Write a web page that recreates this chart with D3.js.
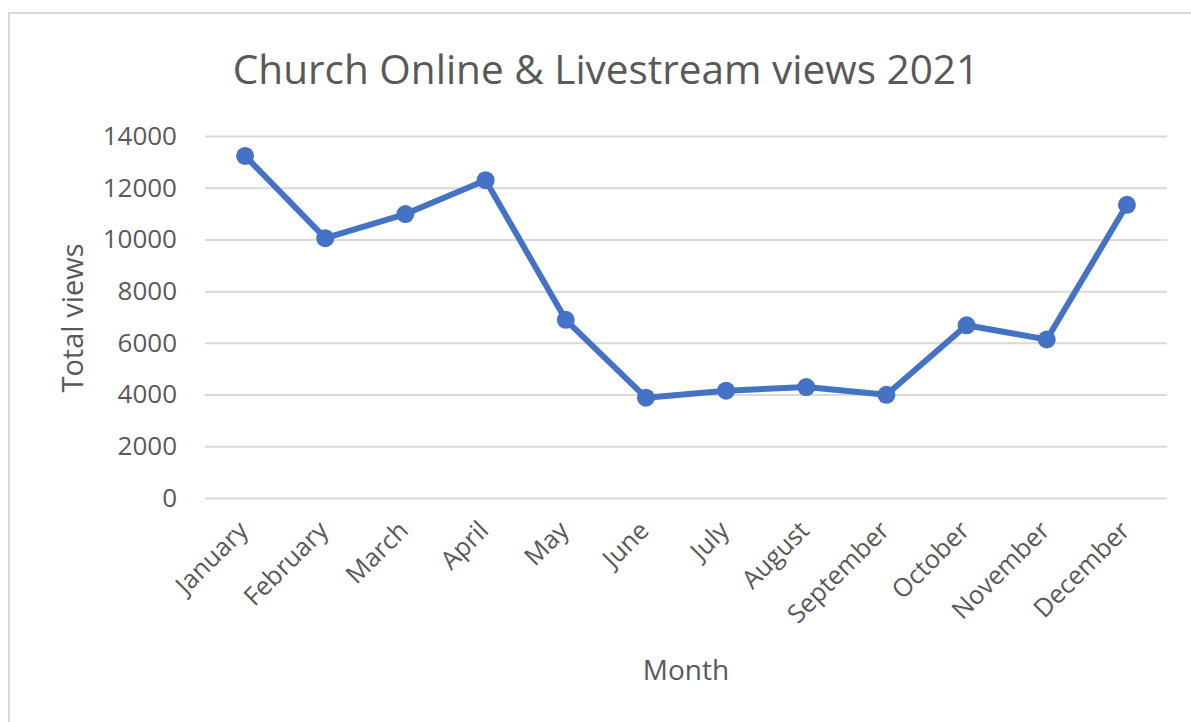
<!DOCTYPE html>
<html>
<head>
<meta charset="utf-8">
<script src="https://cdn.jsdelivr.net/npm/d3@7"></script>
<style>
  body { margin: 0; background: #fff; }
  text { font-family: "Open Sans", sans-serif; fill: #595959; }
</style>
</head>
<body>
<div id="chart"></div>
<script>
var months = ['January', 'February', 'March', 'April', 'May', 'June',
    'July', 'August', 'September', 'October', 'November', 'December'];
var views = [13230, 10050, 10980, 12290, 6890, 3880, 4150, 4290, 3990, 6680, 6130, 11340];
var yTicks = [0, 2000, 4000, 6000, 8000, 10000, 12000, 14000];

var W = 1191, H = 722;
var margin = { top: 136, right: 24, bottom: 224, left: 205 };
var width = W - margin.left - margin.right;
var height = H - margin.top - margin.bottom;

var svg = d3.select('#chart').append('svg')
    .attr('width', W)
    .attr('height', H);

// chart frame
svg.append('rect')
    .attr('x', 9)
    .attr('y', 13)
    .attr('width', W + 10)
    .attr('height', H + 10)
    .attr('fill', 'none')
    .attr('stroke', '#d9d9d9')
    .attr('stroke-width', 2);

var g = svg.append('g')
    .attr('transform', 'translate(' + margin.left + ',' + margin.top + ')');

var x = d3.scalePoint()
    .domain(months)
    .range([0, width])
    .padding(0.5);

var y = d3.scaleLinear()
    .domain([0, 14000])
    .range([height, 0]);

// gridlines + y labels
var yAxis = g.append('g')
    .attr('class', 'y_axis')
    .call(d3.axisLeft(y).tickValues(yTicks).tickSize(-width).tickPadding(28).tickFormat(d3.format('d')));
yAxis.select('.domain').remove();
yAxis.selectAll('line').attr('stroke', '#d9d9d9').attr('stroke-width', 2);
yAxis.selectAll('text').style('font-size', '26px').attr('fill', '#595959');

// x labels
var xAxis = g.append('g')
    .attr('class', 'x_axis')
    .attr('transform', 'translate(0,' + height + ')')
    .call(d3.axisBottom(x).tickSize(0));
xAxis.select('.domain').remove();
xAxis.selectAll('text')
    .style('font-size', '25.5px')
    .attr('fill', '#595959')
    .attr('text-anchor', 'end')
    .attr('dy', null)
    .attr('y', 0)
    .attr('transform', 'translate(4,34) rotate(-45)');

// line
var line = d3.line()
    .x(function (d, i) { return x(months[i]); })
    .y(function (d) { return y(d); });

g.append('path')
    .datum(views)
    .attr('fill', 'none')
    .attr('stroke', '#4472C4')
    .attr('stroke-width', 6)
    .attr('stroke-linejoin', 'round')
    .attr('d', line);

g.selectAll('.dot')
    .data(views)
    .enter()
    .append('circle')
    .attr('class', 'dot')
    .attr('cx', function (d, i) { return x(months[i]); })
    .attr('cy', function (d) { return y(d); })
    .attr('r', 9)
    .attr('fill', '#4472C4');

// title
svg.append('text')
    .attr('x', 606)
    .attr('y', 84)
    .attr('text-anchor', 'middle')
    .style('font-size', '40.5px')
    .text('Church Online & Livestream views 2021');

// axis titles
svg.append('text')
    .attr('text-anchor', 'middle')
    .attr('transform', 'translate(83,318) rotate(-90)')
    .style('font-size', '29px')
    .text('Total views');

svg.append('text')
    .attr('x', 686)
    .attr('y', 680)
    .attr('text-anchor', 'middle')
    .style('font-size', '28px')
    .text('Month');
</script>
</body>
</html>
